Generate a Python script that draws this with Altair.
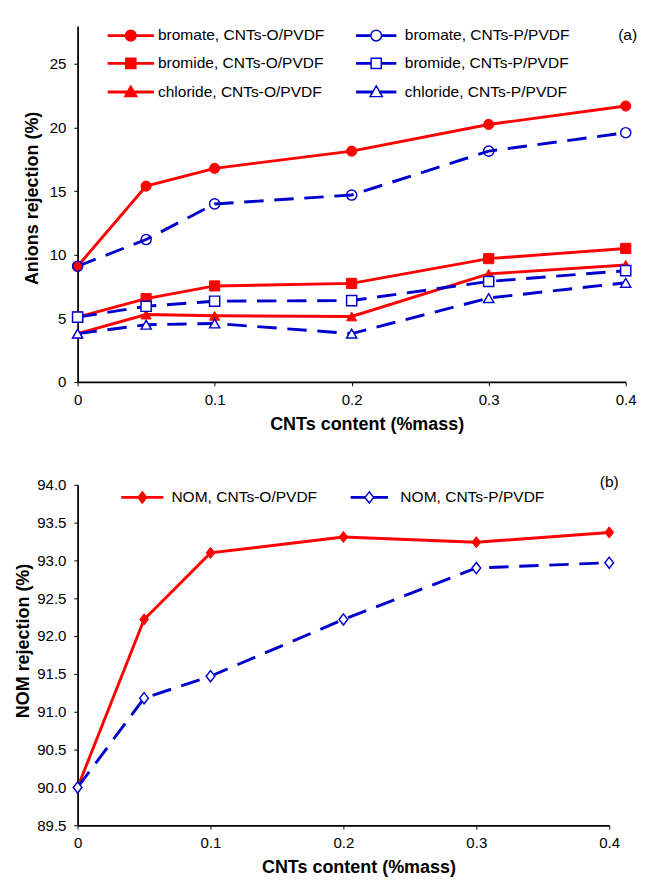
import altair as alt
import pandas as pd

# ---------------- data ----------------
cnt = [0, 0.05, 0.1, 0.2, 0.3, 0.4]

bromate_O = [9.1, 15.4, 16.8, 18.15, 20.25, 21.7]
bromide_O = [5.1, 6.55, 7.55, 7.75, 9.7, 10.5]
chloride_O = [3.8, 5.3, 5.2, 5.15, 8.5, 9.2]
bromate_P = [9.1, 11.2, 14.0, 14.7, 18.15, 19.6]
bromide_P = [5.1, 5.95, 6.35, 6.4, 7.9, 8.75]
chloride_P = [3.8, 4.5, 4.6, 3.8, 6.6, 7.8]

labels_O = ["bromate, CNTs-O/PVDF", "bromide, CNTs-O/PVDF", "chloride, CNTs-O/PVDF"]
labels_P = ["bromate, CNTs-P/PVDF", "bromide, CNTs-P/PVDF", "chloride, CNTs-P/PVDF"]

nom_O = [90.0, 92.22, 93.1, 93.31, 93.24, 93.37]
nom_P = [90.0, 91.18, 91.47, 92.22, 92.9, 92.97]
nom_labels = ["NOM, CNTs-O/PVDF", "NOM, CNTs-P/PVDF"]

x_ticks = [0, 0.1, 0.2, 0.3, 0.4]
y_ticks_top = [0, 5, 10, 15, 20, 25]
y_ticks_bottom = [89.5, 90.0, 90.5, 91.0, 91.5, 92.0, 92.5, 93.0, 93.5, 94.0]

x_title = "CNTs content (%mass)"
y_title_top = "Anions rejection (%)"
y_title_bottom = "NOM rejection (%)"

# ---------------- tables ----------------
rows = []
for lab, vals in zip(labels_O, [bromate_O, bromide_O, chloride_O]):
    for c, v in zip(cnt, vals):
        rows.append({"cnt": c, "value": v, "series": lab, "group": "O"})
for lab, vals in zip(labels_P, [bromate_P, bromide_P, chloride_P]):
    for c, v in zip(cnt, vals):
        rows.append({"cnt": c, "value": v, "series": lab, "group": "P"})
df_top = pd.DataFrame(rows)

rows = []
for lab, vals, g in zip(nom_labels, [nom_O, nom_P], ["O", "P"]):
    for c, v in zip(cnt, vals):
        rows.append({"cnt": c, "value": v, "series": lab, "group": g})
df_bot = pd.DataFrame(rows)

# ---------------- styles ----------------
FONT = "Liberation Sans"
RED = "#FF0000"
BLUE = "#0000CC"
DASH = [20, 11]


def xenc(title_x):
    return alt.X(
        "cnt:Q",
        scale=alt.Scale(domain=[0, 0.4], nice=False, zero=False),
        axis=alt.Axis(
            values=x_ticks, tickCount=len(x_ticks) + 2, format="~g", title=x_title, grid=False,
            domainColor="black", domainWidth=1.8, tickColor="black", tickWidth=1, tickSize=4,
            labelFont=FONT, labelFontSize=15.5, labelColor="black", labelPadding=7, labelFlush=False,
            titleFont=FONT, titleFontSize=18.5, titleFontWeight="bold", titleColor="black",
            titleX=title_x, titleY=43, titleBaseline="middle", titleAlign="center",
        ),
    )


def yenc(domain, ticks, fmt, title, tx, ty):
    return alt.Y(
        "value:Q",
        scale=alt.Scale(domain=domain, nice=False, zero=False),
        axis=alt.Axis(
            values=ticks, tickCount=len(ticks) + 2, format=fmt, title=title, grid=False,
            domainColor="black", domainWidth=1.8, tickColor="black", tickWidth=1, tickSize=4,
            labelFont=FONT, labelFontSize=15.5, labelColor="black", labelPadding=8,
            labelFlush=False, labelOverlap=False,
            titleFont=FONT, titleFontSize=18.5, titleFontWeight="bold", titleColor="black",
            titleX=tx, titleY=ty, titleBaseline="middle", titleAlign="center", titleAngle=270,
        ),
    )


def seg_path(marker, inner, half, t):
    return (f"M{-half},{-t}H{-inner}V{t}H{-half}Z "
            f"M{inner},{-t}H{half}V{t}H{inner}Z " + marker)


CIRCLE = "M-1,0A1,1 0 1,1 1,0A1,1 0 1,1 -1,0Z"
SQUARE = "M-0.95,-0.95H0.95V0.95H-0.95Z"
TRI = "M0,-1.15L1.15,0.85H-1.15Z"
DIAMOND = "M0,-1.15L0.9,0L0,1.15L-0.9,0Z"


def legend(x, y, offset, rowpad, size):
    return alt.Legend(
        title=None, orient="none", legendX=x, legendY=y, direction="vertical",
        labelFont=FONT, labelFontSize=16, labelColor="black", labelOffset=offset,
        labelLimit=0, rowPadding=rowpad, symbolSize=size, symbolStrokeWidth=1.5,
        symbolOpacity=1, padding=0,
    )


# ---------------- top panel ----------------
XT = xenc(298)
YT = yenc([0, 28], y_ticks_top, "d", y_title_top, -47.7, 177.3)
base_t = alt.Chart(df_top)

lines_O = base_t.transform_filter("datum.group == 'O'").mark_line(
    color=RED, strokeWidth=3).encode(x=XT, y=YT, detail="series:N")
lines_P = base_t.transform_filter("datum.group == 'P'").mark_line(
    color=BLUE, strokeWidth=3, strokeDash=DASH).encode(x=XT, y=YT, detail="series:N")

pts_O = base_t.transform_filter("datum.group == 'O'").mark_point(
    filled=True, fill=RED, stroke=RED, strokeWidth=1, size=110, opacity=1).encode(
    x=XT, y=YT,
    shape=alt.Shape("series:N", scale=alt.Scale(domain=labels_O, range=["circle", "square", "triangle-up"]), legend=None))
# open circles (no fill) for bromate, white-filled square/triangle for bromide/chloride
pts_P_circ = base_t.transform_filter(f"datum.series == '{labels_P[0]}'").mark_point(
    filled=False, stroke=BLUE, strokeWidth=1.5, size=110, opacity=1, shape="circle").encode(x=XT, y=YT)
pts_P = base_t.transform_filter(f"datum.group == 'P' && datum.series != '{labels_P[0]}'").mark_point(
    filled=True, fill="white", stroke=BLUE, strokeWidth=1.5, size=110, opacity=1).encode(
    x=XT, y=YT,
    shape=alt.Shape("series:N", scale=alt.Scale(domain=labels_P[1:], range=["square", "triangle-up"]), legend=None))

leg_paths_O = [seg_path(CIRCLE, 1.0, 4.2, 0.136), seg_path(SQUARE, 0.95, 4.2, 0.136), seg_path(TRI, 0.66, 4.2, 0.136)]
leg_paths_P = [seg_path(CIRCLE, 1.0, 3.64, 0.136), seg_path(SQUARE, 0.95, 3.64, 0.136), seg_path(TRI, 0.66, 3.64, 0.136)]

leg_O = base_t.transform_filter("datum.group == 'O'").mark_point(
    filled=True, fill=RED, stroke=RED, strokeWidth=1.5, size=121, opacity=0).encode(
    x=XT, y=YT,
    shape=alt.Shape("series:N", scale=alt.Scale(domain=labels_O, range=leg_paths_O),
                    legend=legend(46.8, 2, 20, 10.6, 121)))
leg_P = base_t.transform_filter("datum.group == 'P'").mark_point(
    filled=True, fill="white", stroke=BLUE, strokeWidth=1.5, size=121, opacity=0).encode(
    x=XT, y=YT,
    shape=alt.Shape("series:N", scale=alt.Scale(domain=labels_P, range=leg_paths_P),
                    legend=legend(299.8, 2, 21.5, 10.6, 121)))

lab_a = alt.Chart(pd.DataFrame({"t": ["(a)"]})).mark_text(
    font=FONT, fontSize=16, color="black", dx=2, baseline="middle", align="center").encode(
    x=alt.datum(0.4), y=alt.datum(27.3), text="t:N")

top = alt.layer(lines_O, lines_P, pts_O, pts_P_circ, pts_P, leg_O, leg_P, lab_a).resolve_scale(
    shape="independent").properties(width=565, height=367)

# ---------------- bottom panel ----------------
XB = xenc(289.5)
YB = yenc([89.5, 94.0], y_ticks_bottom, ".1f", y_title_bottom, -56.3, 160.5)
base_b = alt.Chart(df_bot)

nl_O = base_b.transform_filter("datum.group == 'O'").mark_line(
    color=RED, strokeWidth=3).encode(x=XB, y=YB)
nl_P = base_b.transform_filter("datum.group == 'P'").mark_line(
    color=BLUE, strokeWidth=3, strokeDash=DASH).encode(x=XB, y=YB)
np_O = base_b.transform_filter("datum.group == 'O'").mark_point(
    filled=True, fill=RED, stroke=RED, strokeWidth=1, size=100, opacity=1, shape=DIAMOND).encode(x=XB, y=YB)
np_P = base_b.transform_filter("datum.group == 'P'").mark_point(
    filled=True, fill="white", stroke=BLUE, strokeWidth=1.5, size=100, opacity=1, shape=DIAMOND).encode(x=XB, y=YB)

nleg_O = base_b.transform_filter("datum.group == 'O'").mark_point(
    filled=True, fill=RED, stroke=RED, strokeWidth=1.5, size=100, opacity=0).encode(
    x=XB, y=YB,
    shape=alt.Shape("series:N", scale=alt.Scale(domain=[nom_labels[0]], range=[seg_path(DIAMOND, 0.9, 4.2, 0.15)]),
                    legend=legend(58.7, 5, 22, 10, 100)))
nleg_P = base_b.transform_filter("datum.group == 'P'").mark_point(
    filled=True, fill="white", stroke=BLUE, strokeWidth=1.5, size=100, opacity=0).encode(
    x=XB, y=YB,
    shape=alt.Shape("series:N", scale=alt.Scale(domain=[nom_labels[1]], range=[seg_path(DIAMOND, 0.9, 3.7, 0.15)]),
                    legend=legend(292.7, 5, 24, 10, 100)))

lab_b = alt.Chart(pd.DataFrame({"t": ["(b)"]})).mark_text(
    font=FONT, fontSize=16, color="black", dy=-2.5, baseline="middle", align="center").encode(
    x=alt.datum(0.4), y=alt.datum(94.0), text="t:N")

bottom = alt.layer(nl_O, nl_P, np_O, np_P, nleg_O, nleg_P, lab_b).resolve_scale(
    shape="independent").properties(width=548, height=351)

chart = alt.vconcat(top, bottom, spacing=42).properties(
    padding={"left": 14, "top": 13, "right": 0, "bottom": 0},
    background="white",
).configure_view(stroke=None)

chart.save("out.html", embed_options={"renderer": "svg", "actions": False})
